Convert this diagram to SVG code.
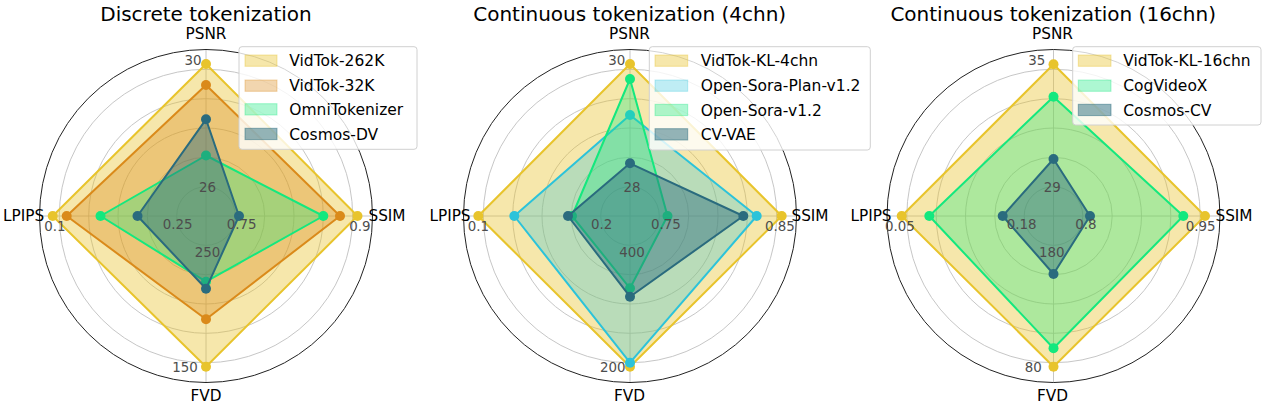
<svg xmlns="http://www.w3.org/2000/svg" width="1264" height="403" viewBox="0 0 1264 403">
<style>
text{font-family:"DejaVu Sans","Liberation Sans",sans-serif}
.title{font-size:20px;fill:#000;text-anchor:middle}
.ax{font-size:15.3px;fill:#000;text-anchor:middle}
.tk{font-size:13.4px;fill:#4d4d4d;text-anchor:middle}
.lg{font-size:15.5px;fill:#000}
.grid{fill:none;stroke:#c0c0c0;stroke-width:0.9}
.outer{fill:none;stroke:#222;stroke-width:1}
.spoke{stroke:#c0c0c0;stroke-width:0.9}
.lbox{fill:#fff;fill-opacity:0.8;stroke:#d0d0d0;stroke-width:1}
.yel{fill:#e8c42c;fill-opacity:0.4;stroke:#e8c42c;stroke-width:2;stroke-linejoin:round}
.org{fill:#da8a1a;fill-opacity:0.35;stroke:#da8a1a;stroke-width:2;stroke-linejoin:round}
.grn{fill:#14e87e;fill-opacity:0.32;stroke:#14e87e;stroke-width:2;stroke-linejoin:round}
.cyn{fill:#2cc3da;fill-opacity:0.3;stroke:#2cc3da;stroke-width:2;stroke-linejoin:round}
.tea{fill:#2a6b7e;fill-opacity:0.45;stroke:#2a6b7e;stroke-width:2;stroke-linejoin:round}
.dy{fill:#e8c42c}.do{fill:#da8a1a}.dg{fill:#14e87e}.dc{fill:#2cc3da}.dt{fill:#2a6b7e}
.py{fill:#e8c42c;fill-opacity:0.4;stroke:#e8c42c;stroke-opacity:0.4}
.po{fill:#da8a1a;fill-opacity:0.35;stroke:#da8a1a;stroke-opacity:0.35}
.pg{fill:#14e87e;fill-opacity:0.35;stroke:#14e87e;stroke-opacity:0.35}
.pc{fill:#2cc3da;fill-opacity:0.3;stroke:#2cc3da;stroke-opacity:0.3}
.pt{fill:#2a6b7e;fill-opacity:0.5;stroke:#2a6b7e;stroke-opacity:0.5}
</style>
<defs>
<g id="grid">
<circle class="grid" r="29.3"/><circle class="grid" r="58.7"/><circle class="grid" r="88"/><circle class="grid" r="117.3"/><circle class="grid" r="146.7"/>
<line class="spoke" x1="0" y1="-166.5" x2="0" y2="166.5"/><line class="spoke" x1="-166.5" y1="0" x2="166.5" y2="0"/>
<circle class="outer" r="166.5"/>
</g>
</defs>
<rect width="1264" height="403" fill="#fff"/>

<g id="chart-discrete">
<text class="title" x="206" y="20.7">Discrete tokenization</text>
<use href="#grid" x="206" y="216"/>
<g id="s-vidtok-262k"><polygon class="yel" points="206,64 357.5,216 206,366.7 52.7,216"/>
<circle class="dy" cx="206" cy="64" r="5"/><circle class="dy" cx="357.5" cy="216" r="5"/><circle class="dy" cx="206" cy="366.7" r="5"/><circle class="dy" cx="52.7" cy="216" r="5"/></g>
<g id="s-vidtok-32k"><polygon class="org" points="206,85 340,216 206,319.3 66.7,216"/>
<circle class="do" cx="206" cy="85" r="5"/><circle class="do" cx="340" cy="216" r="5"/><circle class="do" cx="206" cy="319.3" r="5"/><circle class="do" cx="66.7" cy="216" r="5"/></g>
<g id="s-omni"><polygon class="grn" points="206,155.5 323.3,216 206,281.7 100.5,216"/>
<circle class="dg" cx="206" cy="155.5" r="5"/><circle class="dg" cx="323.3" cy="216" r="5"/><circle class="dg" cx="206" cy="281.7" r="5"/><circle class="dg" cx="100.5" cy="216" r="5"/></g>
<g id="s-cosmos-dv"><polygon class="tea" points="206,119.3 239,216 206,288.8 137.5,216"/>
<circle class="dt" cx="206" cy="119.3" r="5"/><circle class="dt" cx="239" cy="216" r="5"/><circle class="dt" cx="206" cy="288.8" r="5"/><circle class="dt" cx="137.5" cy="216" r="5"/></g>
<text class="tk" x="193" y="64.8">30</text><text class="tk" x="207.5" y="191.5">26</text>
<text class="tk" x="177.7" y="228.8">0.25</text><text class="tk" x="241.7" y="228.8">0.75</text>
<text class="tk" x="207.5" y="256.5">250</text><text class="tk" x="55" y="230.8">0.1</text>
<text class="tk" x="360" y="230.8">0.9</text><text class="tk" x="185" y="371.5">150</text>
<text class="ax" x="206" y="39">PSNR</text><text class="ax" x="23.7" y="220.5">LPIPS</text>
<text class="ax" x="387" y="220.5">SSIM</text><text class="ax" x="206" y="400.5">FVD</text>
<g id="legend-1">
<rect class="lbox" x="239" y="46.7" width="178" height="102.6" rx="3"/>
<rect class="py" x="245" y="55" width="32" height="11.3"/><text class="lg" x="289.3" y="66.4">VidTok-262K</text>
<rect class="po" x="245" y="80" width="32" height="11.3"/><text class="lg" x="289.3" y="91.4">VidTok-32K</text>
<rect class="pg" x="245" y="103.7" width="32" height="11.3"/><text class="lg" x="289.3" y="115.1">OmniTokenizer</text>
<rect class="pt" x="245" y="128.3" width="32" height="11.3"/><text class="lg" x="289.3" y="139.7">Cosmos-DV</text>
</g>
</g>

<g id="chart-cont-4chn">
<text class="title" x="629.7" y="20.7">Continuous tokenization (4chn)</text>
<use href="#grid" x="630" y="216"/>
<g id="s-vidtok-kl-4chn"><polygon class="yel" points="630,64 781.7,216 630,366.7 478.3,216"/>
<circle class="dy" cx="630" cy="64" r="5"/><circle class="dy" cx="781.7" cy="216" r="5"/><circle class="dy" cx="630" cy="366.7" r="5"/><circle class="dy" cx="478.3" cy="216" r="5"/></g>
<g id="s-osp"><polygon class="cyn" points="630,115 756.7,216 630,362.7 514.3,216"/>
<circle class="dc" cx="630" cy="115" r="5"/><circle class="dc" cx="756.7" cy="216" r="5"/><circle class="dc" cx="630" cy="362.7" r="5"/><circle class="dc" cx="514.3" cy="216" r="5"/></g>
<g id="s-os"><polygon class="grn" points="630,79 667.5,216 630,288.3 572,216"/>
<circle class="dg" cx="630" cy="79" r="5"/><circle class="dg" cx="667.5" cy="216" r="5"/><circle class="dg" cx="630" cy="288.3" r="5"/><circle class="dg" cx="572" cy="216" r="5"/></g>
<g id="s-cv-vae"><polygon class="tea" points="630,163.3 743.3,216 630,296.7 568,216"/>
<circle class="dt" cx="630" cy="163.3" r="5"/><circle class="dt" cx="743.3" cy="216" r="5"/><circle class="dt" cx="630" cy="296.7" r="5"/><circle class="dt" cx="568" cy="216" r="5"/></g>
<text class="tk" x="616.7" y="64.8">30</text><text class="tk" x="632" y="191.5">28</text>
<text class="tk" x="601.7" y="228.8">0.2</text><text class="tk" x="666" y="228.8">0.75</text>
<text class="tk" x="632" y="256.5">400</text><text class="tk" x="478.3" y="230.8">0.1</text>
<text class="tk" x="780" y="230.8">0.85</text><text class="tk" x="612.7" y="371.5">200</text>
<text class="ax" x="629.5" y="39">PSNR</text><text class="ax" x="450" y="220.5">LPIPS</text>
<text class="ax" x="810" y="220.5">SSIM</text><text class="ax" x="629.5" y="400.5">FVD</text>
<g id="legend-2">
<rect class="lbox" x="649.3" y="46.7" width="221" height="103.3" rx="3"/>
<rect class="py" x="655" y="55" width="32.7" height="11.3"/><text class="lg" x="700.7" y="66.4">VidTok-KL-4chn</text>
<rect class="pc" x="655" y="80" width="32.7" height="11.3"/><text class="lg" x="700.7" y="91.4">Open-Sora-Plan-v1.2</text>
<rect class="pg" x="655" y="104.3" width="32.7" height="11.3"/><text class="lg" x="700.7" y="115.7">Open-Sora-v1.2</text>
<rect class="pt" x="655" y="128.7" width="32.7" height="11.3"/><text class="lg" x="700.7" y="140">CV-VAE</text>
</g>
</g>

<g id="chart-cont-16chn">
<text class="title" x="1053.2" y="20.7">Continuous tokenization (16chn)</text>
<use href="#grid" x="1053.5" y="216"/>
<g id="s-vidtok-kl-16chn"><polygon class="yel" points="1053.5,64.3 1205,216 1053.5,366.7 901.7,216"/>
<circle class="dy" cx="1053.5" cy="64.3" r="5"/><circle class="dy" cx="1205" cy="216" r="5"/><circle class="dy" cx="1053.5" cy="366.7" r="5"/><circle class="dy" cx="901.7" cy="216" r="5"/></g>
<g id="s-cogvideox"><polygon class="grn" points="1053.5,96.7 1183.3,216 1053.5,348.3 929.3,216"/>
<circle class="dg" cx="1053.5" cy="96.7" r="5"/><circle class="dg" cx="1183.3" cy="216" r="5"/><circle class="dg" cx="1053.5" cy="348.3" r="5"/><circle class="dg" cx="929.3" cy="216" r="5"/></g>
<g id="s-cosmos-cv"><polygon class="tea" points="1053.5,159 1090,216 1053.5,274 1002.7,216"/>
<circle class="dt" cx="1053.5" cy="159" r="5"/><circle class="dt" cx="1090" cy="216" r="5"/><circle class="dt" cx="1053.5" cy="274" r="5"/><circle class="dt" cx="1002.7" cy="216" r="5"/></g>
<text class="tk" x="1036.7" y="64.8">35</text><text class="tk" x="1052.3" y="191.5">29</text>
<text class="tk" x="1021.7" y="228.8">0.18</text><text class="tk" x="1086" y="228.8">0.8</text>
<text class="tk" x="1051.7" y="256.5">180</text><text class="tk" x="900" y="230.8">0.05</text>
<text class="tk" x="1200.7" y="230.8">0.95</text><text class="tk" x="1033.3" y="371.5">80</text>
<text class="ax" x="1052.5" y="39">PSNR</text><text class="ax" x="871" y="220.5">LPIPS</text>
<text class="ax" x="1234" y="220.5">SSIM</text><text class="ax" x="1052.5" y="400.5">FVD</text>
<g id="legend-3">
<rect class="lbox" x="1072.7" y="46.7" width="188.3" height="78.3" rx="3"/>
<rect class="py" x="1078.3" y="55" width="32.7" height="11.3"/><text class="lg" x="1123.3" y="66.4">VidTok-KL-16chn</text>
<rect class="pg" x="1078.3" y="80" width="32.7" height="11.3"/><text class="lg" x="1123.3" y="91.4">CogVideoX</text>
<rect class="pt" x="1078.3" y="104.3" width="32.7" height="11.3"/><text class="lg" x="1123.3" y="115.7">Cosmos-CV</text>
</g>
</g>
</svg>
